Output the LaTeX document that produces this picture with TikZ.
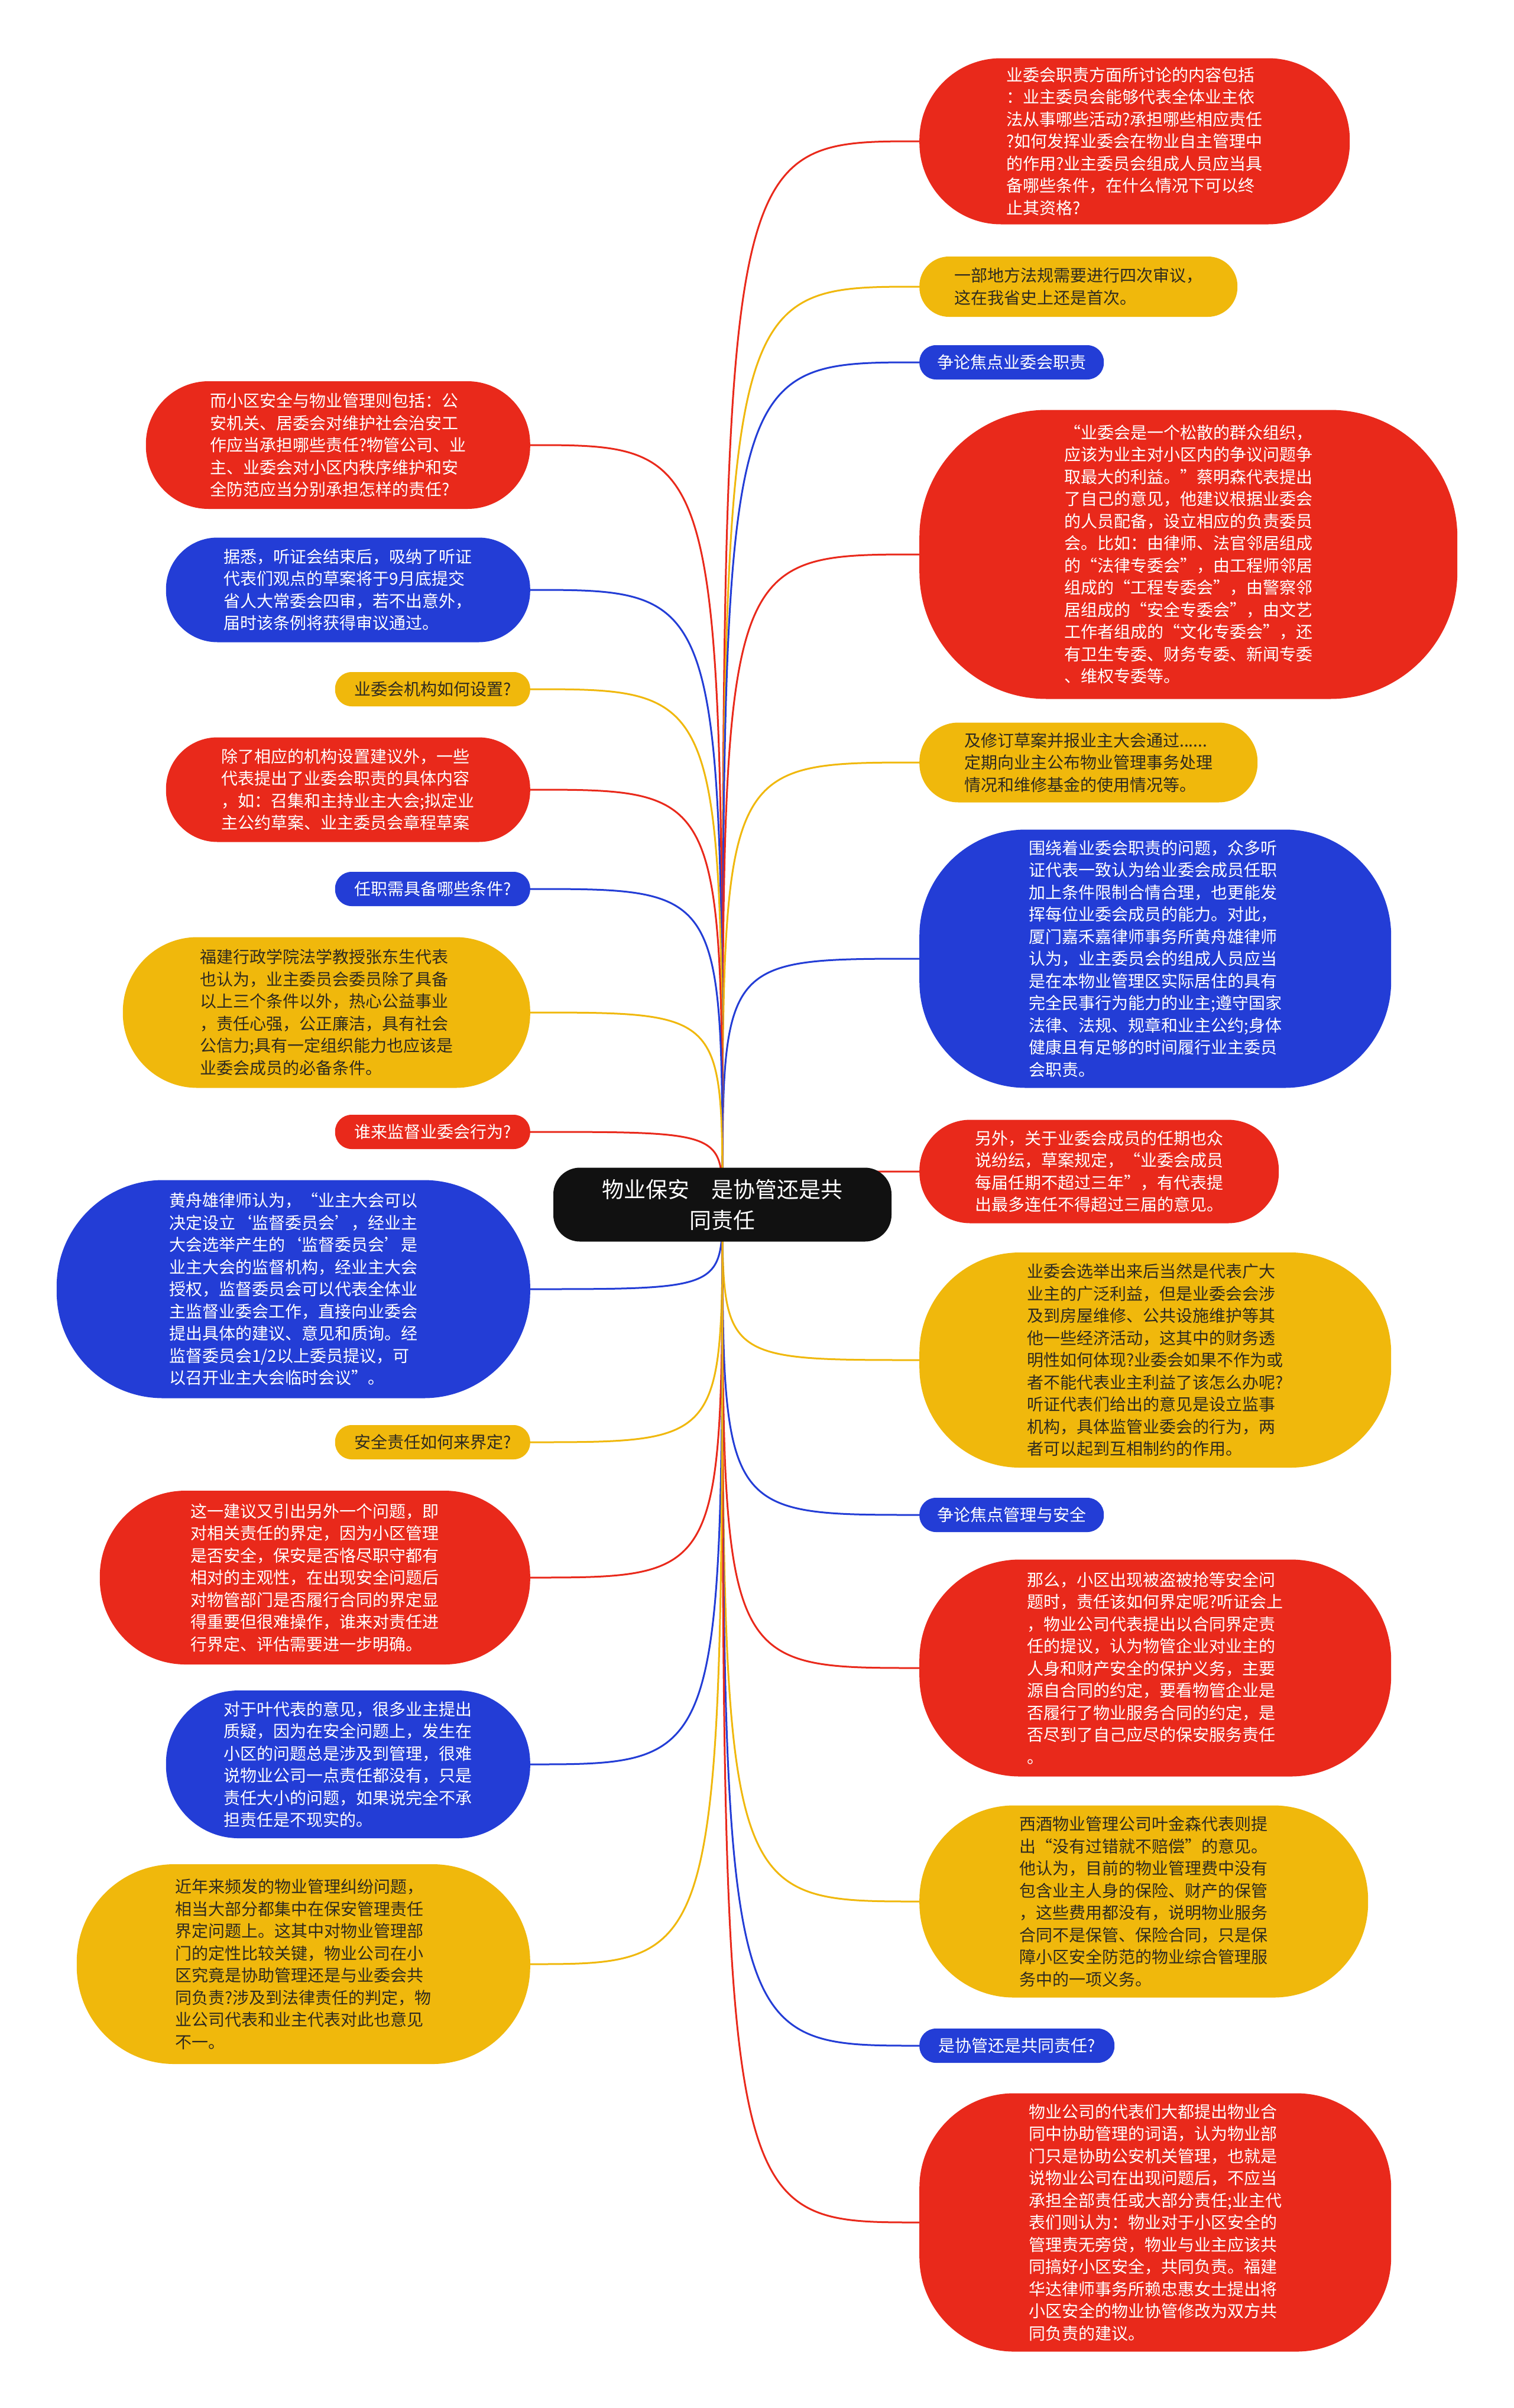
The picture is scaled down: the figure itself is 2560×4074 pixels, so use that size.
\documentclass[tikz,border=0pt]{standalone}
\usepackage{fontspec}
\setmainfont{Noto Sans CJK SC}
\usetikzlibrary{backgrounds}
\definecolor{mmred}{HTML}{E9291B}
\definecolor{mmyellow}{HTML}{F0B80C}
\definecolor{mmblue}{HTML}{233DD6}
\definecolor{mmink}{HTML}{2E2A20}
\definecolor{mmblack}{HTML}{111111}
\tikzset{
  leaf/.style={inner sep=5pt, align=left, font=\fontsize{28}{37.5}\selectfont},
  redleaf/.style={leaf, fill=mmred, text=white},
  yellowleaf/.style={leaf, fill=mmyellow, text=mmink},
  blueleaf/.style={leaf, fill=mmblue, text=white},
  tag/.style={minimum width=#1, minimum height=58pt, rounded corners=28pt},
  tag/.default=330pt,
  hub/.style={fill=mmblack, text=white, align=center, minimum width=572pt, minimum height=125pt,
    rounded corners=45pt, font=\fontsize{37}{52}\selectfont},
  spoke/.style={line width=3pt},
}
\begin{document}
\begin{tikzpicture}[x=1pt, y=-1pt]
\useasboundingbox (0,0) rectangle (2560,4074);

\node[hub] (c) at (1222,2038) {物业保安　是协管还是共\\同责任};

% right side
\node[redleaf, anchor=west, minimum width=728pt, minimum height=281pt, rounded corners=138pt] (r1) at (1555,239)
  {业委会职责方面所讨论的内容包括\\：业主委员会能够代表全体业主依\\法从事哪些活动?承担哪些相应责任\\?如何发挥业委会在物业自主管理中\\的作用?业主委员会组成人员应当具\\备哪些条件，在什么情况下可以终\\止其资格?};
\node[yellowleaf, anchor=west, minimum width=538pt, minimum height=102pt, rounded corners=50pt] (r2) at (1555,485)
  {一部地方法规需要进行四次审议，\\这在我省史上还是首次。};
\node[blueleaf, tag=312pt, anchor=west] (r3) at (1555,613) {争论焦点业委会职责};
\node[redleaf, anchor=west, minimum width=910pt, minimum height=489pt, rounded corners=215pt] (r4) at (1555,938)
  {“业委会是一个松散的群众组织，\\应该为业主对小区内的争议问题争\\取最大的利益。”蔡明森代表提出\\了自己的意见，他建议根据业委会\\的人员配备，设立相应的负责委员\\会。比如：由律师、法官邻居组成\\的“法律专委会”，由工程师邻居\\组成的“工程专委会”，由警察邻\\居组成的“安全专委会”，由文艺\\工作者组成的“文化专委会”，还\\有卫生专委、财务专委、新闻专委\\、维权专委等。};
\node[yellowleaf, anchor=west, minimum width=572pt, minimum height=135pt, rounded corners=66pt] (r5) at (1555,1290)
  {及修订草案并报业主大会通过......\\定期向业主公布物业管理事务处理\\情况和维修基金的使用情况等。};
\node[blueleaf, anchor=west, minimum width=798pt, minimum height=437pt, rounded corners=180pt] (r6) at (1555,1622)
  {围绕着业委会职责的问题，众多听\\证代表一致认为给业委会成员任职\\加上条件限制合情合理，也更能发\\挥每位业委会成员的能力。对此，\\厦门嘉禾嘉律师事务所黄舟雄律师\\认为，业主委员会的组成人员应当\\是在本物业管理区实际居住的具有\\完全民事行为能力的业主;遵守国家\\法律、法规、规章和业主公约;身体\\健康且有足够的时间履行业主委员\\会职责。};
\node[redleaf, anchor=west, minimum width=608pt, minimum height=175pt, rounded corners=86pt] (r7) at (1555,1982)
  {另外，关于业委会成员的任期也众\\说纷纭，草案规定，“业委会成员\\每届任期不超过三年”，有代表提\\出最多连任不得超过三届的意见。};
\node[yellowleaf, anchor=west, minimum width=798pt, minimum height=364pt, rounded corners=170pt] (r8) at (1555,2301)
  {业委会选举出来后当然是代表广大\\业主的广泛利益，但是业委会会涉\\及到房屋维修、公共设施维护等其\\他一些经济活动，这其中的财务透\\明性如何体现?业委会如果不作为或\\者不能代表业主利益了该怎么办呢?\\听证代表们给出的意见是设立监事\\机构，具体监管业委会的行为，两\\者可以起到互相制约的作用。};
\node[blueleaf, tag=312pt, anchor=west] (r9) at (1555,2563) {争论焦点管理与安全};
\node[redleaf, anchor=west, minimum width=798pt, minimum height=367pt, rounded corners=170pt] (r10) at (1555,2822)
  {那么，小区出现被盗被抢等安全问\\题时，责任该如何界定呢?听证会上\\，物业公司代表提出以合同界定责\\任的提议，认为物管企业对业主的\\人身和财产安全的保护义务，主要\\源自合同的约定，要看物管企业是\\否履行了物业服务合同的约定，是\\否尽到了自己应尽的保安服务责任\\。};
\node[yellowleaf, anchor=west, minimum width=759pt, minimum height=325pt, rounded corners=160pt] (r11) at (1555,3217)
  {西酒物业管理公司叶金森代表则提\\出“没有过错就不赔偿”的意见。\\他认为，目前的物业管理费中没有\\包含业主人身的保险、财产的保管\\，这些费用都没有，说明物业服务\\合同不是保管、保险合同，只是保\\障小区安全防范的物业综合管理服\\务中的一项义务。};
\node[blueleaf, tag, anchor=west] (r12) at (1555,3461) {是协管还是共同责任?};
\node[redleaf, anchor=west, minimum width=798pt, minimum height=437pt, rounded corners=160pt] (r13) at (1555,3760)
  {物业公司的代表们大都提出物业合\\同中协助管理的词语，认为物业部\\门只是协助公安机关管理，也就是\\说物业公司在出现问题后，不应当\\承担全部责任或大部分责任;业主代\\表们则认为：物业对于小区安全的\\管理责无旁贷，物业与业主应该共\\同搞好小区安全，共同负责。福建\\华达律师事务所赖忠惠女士提出将\\小区安全的物业协管修改为双方共\\同负责的建议。};

% left side
\node[redleaf, anchor=east, minimum width=650pt, minimum height=216pt, rounded corners=106pt] (l1) at (897,753)
  {而小区安全与物业管理则包括：公\\安机关、居委会对维护社会治安工\\作应当承担哪些责任?物管公司、业\\主、业委会对小区内秩序维护和安\\全防范应当分别承担怎样的责任?};
\node[blueleaf, anchor=east, minimum width=616pt, minimum height=177pt, rounded corners=87pt] (l2) at (897,998)
  {据悉，听证会结束后，吸纳了听证\\代表们观点的草案将于9月底提交\\省人大常委会四审，若不出意外，\\届时该条例将获得审议通过。};
\node[yellowleaf, tag, anchor=east] (l3) at (897,1166) {业委会机构如何设置?};
\node[redleaf, anchor=east, minimum width=616pt, minimum height=177pt, rounded corners=87pt] (l4) at (897,1336)
  {除了相应的机构设置建议外，一些\\代表提出了业委会职责的具体内容\\，如：召集和主持业主大会;拟定业\\主公约草案、业主委员会章程草案};
\node[blueleaf, tag, anchor=east] (l5) at (897,1504) {任职需具备哪些条件?};
\node[yellowleaf, anchor=east, minimum width=689pt, minimum height=255pt, rounded corners=126pt] (l6) at (897,1713)
  {福建行政学院法学教授张东生代表\\也认为，业主委员会委员除了具备\\以上三个条件以外，热心公益事业\\，责任心强，公正廉洁，具有社会\\公信力;具有一定组织能力也应该是\\业委会成员的必备条件。};
\node[redleaf, tag, anchor=east] (l7) at (897,1915) {谁来监督业委会行为?};
\node[blueleaf, anchor=east, minimum width=801pt, minimum height=369pt, rounded corners=180pt] (l8) at (897,2181)
  {黄舟雄律师认为，“业主大会可以\\决定设立‘监督委员会’，经业主\\大会选举产生的‘监督委员会’是\\业主大会的监督机构，经业主大会\\授权，监督委员会可以代表全体业\\主监督业委会工作，直接向业委会\\提出具体的建议、意见和质询。经\\监督委员会1/2以上委员提议，可\\以召开业主大会临时会议”。};
\node[yellowleaf, tag, anchor=east] (l9) at (897,2440) {安全责任如何来界定?};
\node[redleaf, anchor=east, minimum width=728pt, minimum height=294pt, rounded corners=145pt] (l10) at (897,2669)
  {这一建议又引出另外一个问题，即\\对相关责任的界定，因为小区管理\\是否安全，保安是否恪尽职守都有\\相对的主观性，在出现安全问题后\\对物管部门是否履行合同的界定显\\得重要但很难操作，谁来对责任进\\行界定、评估需要进一步明确。};
\node[blueleaf, anchor=east, minimum width=616pt, minimum height=250pt, rounded corners=123pt] (l11) at (897,2985)
  {对于叶代表的意见，很多业主提出\\质疑，因为在安全问题上，发生在\\小区的问题总是涉及到管理，很难\\说物业公司一点责任都没有，只是\\责任大小的问题，如果说完全不承\\担责任是不现实的。};
\node[yellowleaf, anchor=east, minimum width=767pt, minimum height=338pt, rounded corners=165pt] (l12) at (897,3323)
  {近年来频发的物业管理纠纷问题，\\相当大部分都集中在保安管理责任\\界定问题上。这其中对物业管理部\\门的定性比较关键，物业公司在小\\区究竟是协助管理还是与业委会共\\同负责?涉及到法律责任的判定，物\\业公司代表和业主代表对此也意见\\不一。};

\begin{scope}[on background layer]
  \fill[white] (0,0) rectangle (2560,4074);
  \draw[spoke, mmred] (c.center) .. controls (c.center |- r1.west) .. (r1.west);
  \draw[spoke, mmyellow] (c.center) .. controls (c.center |- r2.west) .. (r2.west);
  \draw[spoke, mmblue] (c.center) .. controls (c.center |- r3.west) .. (r3.west);
  \draw[spoke, mmred] (c.center) .. controls (c.center |- r4.west) .. (r4.west);
  \draw[spoke, mmyellow] (c.center) .. controls (c.center |- r5.west) .. (r5.west);
  \draw[spoke, mmblue] (c.center) .. controls (c.center |- r6.west) .. (r6.west);
  \draw[spoke, mmred] (c.center) .. controls (c.center |- r7.west) .. (r7.west);
  \draw[spoke, mmyellow] (c.center) .. controls (c.center |- r8.west) .. (r8.west);
  \draw[spoke, mmblue] (c.center) .. controls (c.center |- r9.west) .. (r9.west);
  \draw[spoke, mmred] (c.center) .. controls (c.center |- r10.west) .. (r10.west);
  \draw[spoke, mmyellow] (c.center) .. controls (c.center |- r11.west) .. (r11.west);
  \draw[spoke, mmblue] (c.center) .. controls (c.center |- r12.west) .. (r12.west);
  \draw[spoke, mmred] (c.center) .. controls (c.center |- r13.west) .. (r13.west);
  \draw[spoke, mmred] (c.center) .. controls (c.center |- l1.east) .. (l1.east);
  \draw[spoke, mmblue] (c.center) .. controls (c.center |- l2.east) .. (l2.east);
  \draw[spoke, mmyellow] (c.center) .. controls (c.center |- l3.east) .. (l3.east);
  \draw[spoke, mmred] (c.center) .. controls (c.center |- l4.east) .. (l4.east);
  \draw[spoke, mmblue] (c.center) .. controls (c.center |- l5.east) .. (l5.east);
  \draw[spoke, mmyellow] (c.center) .. controls (c.center |- l6.east) .. (l6.east);
  \draw[spoke, mmred] (c.center) .. controls (c.center |- l7.east) .. (l7.east);
  \draw[spoke, mmblue] (c.center) .. controls (c.center |- l8.east) .. (l8.east);
  \draw[spoke, mmyellow] (c.center) .. controls (c.center |- l9.east) .. (l9.east);
  \draw[spoke, mmred] (c.center) .. controls (c.center |- l10.east) .. (l10.east);
  \draw[spoke, mmblue] (c.center) .. controls (c.center |- l11.east) .. (l11.east);
  \draw[spoke, mmyellow] (c.center) .. controls (c.center |- l12.east) .. (l12.east);
\end{scope}
\end{tikzpicture}
\end{document}
